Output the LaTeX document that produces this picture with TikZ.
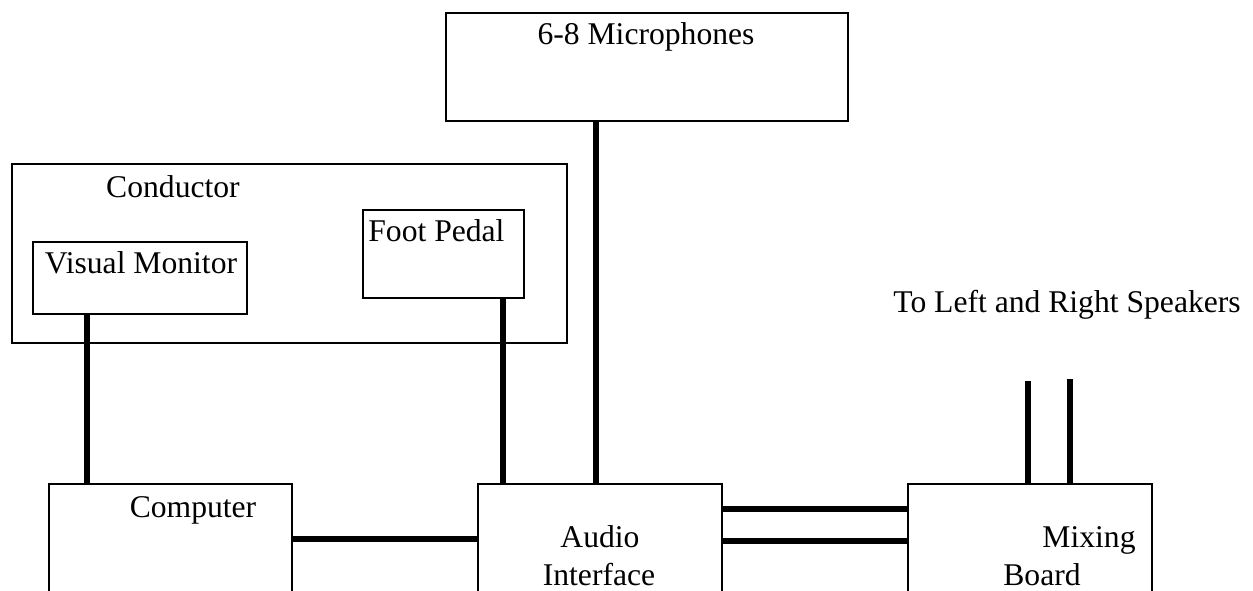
\documentclass[tikz,border=0pt]{standalone}
\usepackage{fontspec}
\setmainfont{Liberation Serif}
\usetikzlibrary{fit}

\begin{document}
\begin{tikzpicture}[x=0.02cm,y=-0.02cm,line cap=butt,line join=miter,
  box/.style={draw,line width=1.3pt,inner sep=0pt},
  lbl/.style={inner sep=0pt,font=\fontsize{18}{20}\selectfont},
  wire/.style={line width=3pt}]
\useasboundingbox (0,0) rectangle (1253,591);
\clip (0,0) rectangle (1253,591);
\node[box,fit={(446,13) (848,121)}] (mic) {};
\node[box,fit={(12,164) (567,343)}] (cond) {};
\node[box,fit={(33,242) (247,314)}] (vm) {};
\node[box,fit={(363,210) (524,298)}] (fp) {};
\node[box,fit={(49,484) (292,650)}] (cmp) {};
\node[box,fit={(478,484) (722,650)}] (ai) {};
\node[box,fit={(908,484) (1152,650)}] (mix) {};
\coordinate (spL) at (1028,381);
\coordinate (spR) at (1070,379);
\node[lbl,anchor=base] (micl) at (646,45) {6-8 Microphones};
\node[lbl,anchor=base] (condl) at (173,197) {Conductor};
\node[lbl,anchor=base] (vml) at (141,273) {Visual Monitor};
\node[lbl,anchor=base west] (fpl) at (368,241) {Foot Pedal};
\node[lbl,anchor=base] (cmpl) at (193,517) {Computer};
\node[lbl,anchor=base] (ail) at (600,547) {Audio};
\node[lbl,anchor=base] (ail2) at (599,585) {Interface};
\node[lbl,anchor=base] (mixl) at (1089,547) {Mixing};
\node[lbl,anchor=base] (mixl2) at (1042,585) {Board};
\node[lbl,anchor=base west] (spl) at (893,312) {To Left and Right Speakers};
\draw[wire] (vm.south -| 87,0) -- (cmp.north -| 87,0);
\draw[wire] (fp.south -| 503,0) -- (ai.north -| 503,0);
\draw[wire] (mic.south -| 596,0) -- (ai.north -| 596,0);
\draw[wire] (cmp.east |- 0,539) -- (ai.west |- 0,539);
\draw[wire] (ai.east |- 0,509) -- (mix.west |- 0,509);
\draw[wire] (ai.east |- 0,541) -- (mix.west |- 0,541);
\draw[wire] (mix.north -| spL) -- (spL);
\draw[wire] (mix.north -| spR) -- (spR);
\end{tikzpicture}
\end{document}
